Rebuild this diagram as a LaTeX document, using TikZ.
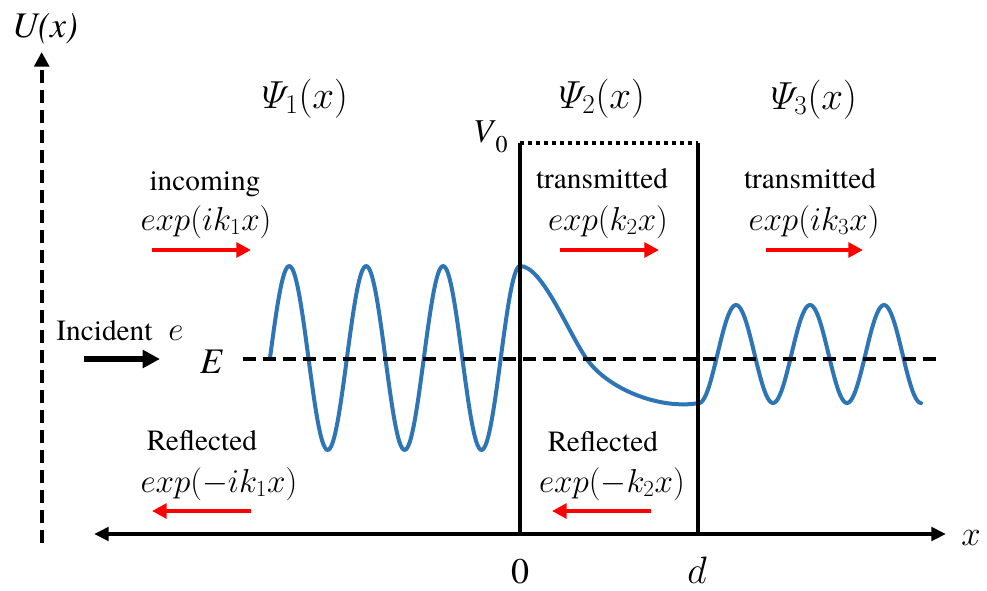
\documentclass[tikz,border=0pt]{standalone}
\usepackage{fontspec}
\IfFontExistsTF{texgyretermes-regular.otf}{%
  \setmainfont{texgyretermes}[Extension=.otf, UprightFont=*-regular, ItalicFont=*-italic, BoldFont=*-bold, BoldItalicFont=*-bolditalic]%
}{%
  \setmainfont{Liberation Serif}%
}
\usetikzlibrary{arrows.meta}
\definecolor{wblue}{RGB}{46,117,182}
\definecolor{rred}{RGB}{255,0,0}
\begin{document}
\begin{tikzpicture}[x=0.75pt,y=-0.75pt,
  txt/.style={font=\fontsize{22}{26}\selectfont, inner sep=0pt, anchor=base},
  mth/.style={font=\fontsize{24}{28}\selectfont, inner sep=0pt, anchor=base},
  hdr/.style={font=\fontsize{24}{28}\selectfont, inner sep=0pt, anchor=base, scale=1.18},
  big/.style={font=\fontsize{27}{30}\selectfont, inner sep=0pt, anchor=base},
  wave/.style={wblue, line width=3pt, line cap=round, line join=round},
  axisline/.style={black, line width=3pt},
  redarrow/.style={rred, line width=3pt, -{Triangle[length=11pt,width=11pt]}},
  dashline/.style={black, line width=3pt, dash pattern=on 10pt off 5pt},
  dotline/.style={black, line width=3pt, dash pattern=on 3pt off 3pt}
]
\useasboundingbox (0,0) rectangle (987,590);

% wave function
\draw[wave] plot[domain=270:520,samples=160,smooth] (\x,{358-92*sin(4.68*(\x-270))});
\draw[wave] (520,266) .. controls (542,266) and (567,330) .. (586,358)
            .. controls (607,389) and (660,410) .. (699,403);
\draw[wave] plot[domain=699:921,samples=160,smooth] (\x,{354+49*cos(4.865*(\x-699))});

% coordinates
\coordinate (vb) at (41.7,543);
\coordinate (vt) at (41.7,52);
\coordinate (hl) at (94,534);
\coordinate (hr) at (946,534);
\coordinate (b0t) at (520,143);
\coordinate (b0b) at (520,534);
\coordinate (bdt) at (698,143);
\coordinate (bdb) at (698,534);
\coordinate (el) at (243,359);
\coordinate (er) at (942,359);
\coordinate (ia) at (84,359);
\coordinate (ib) at (160,359);
\coordinate (r1a) at (152,250);
\coordinate (r1b) at (251,250);
\coordinate (r2a) at (560,250);
\coordinate (r2b) at (659,250);
\coordinate (r3a) at (766,250);
\coordinate (r3b) at (863,250);
\coordinate (l1a) at (251,511);
\coordinate (l1b) at (152,511);
\coordinate (l2a) at (651,511);
\coordinate (l2b) at (552,511);

% axes and potential
\draw[dashline, -{Triangle[length=11pt,width=11pt]}] (vb) -- (vt);
\draw[axisline, {Triangle[length=11pt,width=10pt]}-{Triangle[length=11pt,width=10pt]}] (hl) -- (hr);
\draw[axisline] (b0b) -- (b0t);
\draw[axisline] (bdb) -- (bdt);
\draw[dotline] (b0t) -- (bdt);
\draw[dashline] (el) -- (er);
\draw[black, line width=4.5pt, -{Triangle[length=13pt,width=13pt]}] (ia) -- (ib);

% red arrows
\draw[redarrow] (r1a) -- (r1b);
\draw[redarrow] (r2a) -- (r2b);
\draw[redarrow] (r3a) -- (r3b);
\draw[redarrow] (l1a) -- (l1b);
\draw[redarrow] (l2a) -- (l2b);

% labels
\node[big, font=\fontsize{27}{30}\selectfont\itshape] (ulab) at (45,37) {U(x)};
\node[mth, scale=1.05] (xlab) at (971,545) {$x$};
\node[big] (zero) at (520,583) {0};
\node[mth, scale=1.15] (dlab) at (697,583) {$d$};
\node[big, font=\fontsize{27}{30}\selectfont\itshape] (elab) at (211,373) {E};
\node[big, font=\fontsize{25}{28}\selectfont, anchor=base east] (v0) at (508,142) {\textit{V}\raisebox{-0.32em}{\fontsize{18}{20}\selectfont 0}};
\node[txt] (inc) at (104.5,340) {Incident};
\node[mth] (elec) at (176,340) {$e$};

\node[hdr] (psi1) at (305,108) {$\mathnormal{\Psi}_1(x)$};
\node[hdr] (psi2) at (602,108) {$\mathnormal{\Psi}_2(x)$};
\node[hdr] (psi3) at (814,109) {$\mathnormal{\Psi}_3(x)$};

\node[txt] (t1) at (205,190) {incoming};
\node[mth] (m1) at (206,230) {$exp(ik_1x)$};
\node[txt] (t2) at (602,188) {transmitted};
\node[mth] (m2) at (608,230) {$exp(k_2x)$};
\node[txt] (t3) at (810,188) {transmitted};
\node[mth] (m3) at (814,230) {$exp(ik_3x)$};

\node[txt] (f1) at (202,450) {Reflected};
\node[mth] (n1) at (219,492) {$exp(-ik_1x)$};
\node[txt] (f2) at (603,451) {Reflected};
\node[mth] (n2) at (612,492) {$exp(-k_2x)$};
\end{tikzpicture}
\end{document}
